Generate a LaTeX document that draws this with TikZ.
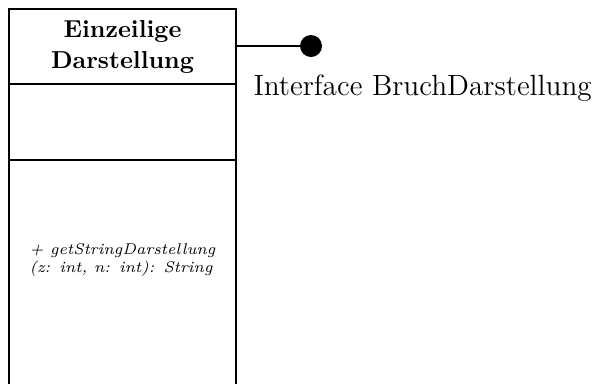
\documentclass[tikz,border=0pt]{standalone}
\begin{document}
\begin{tikzpicture}[x=0.4pt,y=-0.4pt,
  classline/.style={line width=0.5pt},
  titletext/.style={font=\fontsize{9.8}{12.4}\selectfont\bfseries, align=center, inner sep=0pt},
  methodtext/.style={font=\fontsize{6.25}{6.9}\selectfont\itshape, align=left, inner sep=0pt},
  lolli/.style={circle, fill=black, minimum size=8.8pt, inner sep=0pt},
  iftext/.style={font=\fontsize{11.7}{13}\selectfont, inner sep=0pt, anchor=base west}]
\useasboundingbox (0,0) rectangle (599,383);
\begin{scope}
\clip (0,0) rectangle (599,383);
\draw[classline] (9,400) -- (9,9) -- (236,9) -- (236,400);
\draw[classline] (9,84) -- (236,84);
\draw[classline] (9,160) -- (236,160);
\end{scope}
\coordinate (port) at (236,46);
\node[titletext] (name) at (122.5,47) {Einzeilige\\Darstellung};
\node[methodtext] (op) at (122.5,260) {+ getStringDarstellung\\(z: int, n: int): String};
\node[lolli] (ball) at (311,46) {};
\draw[classline] (port) -- (ball);
\node[iftext] (ifname) at (253,95) {Interface BruchDarstellung};
\end{tikzpicture}
\end{document}
